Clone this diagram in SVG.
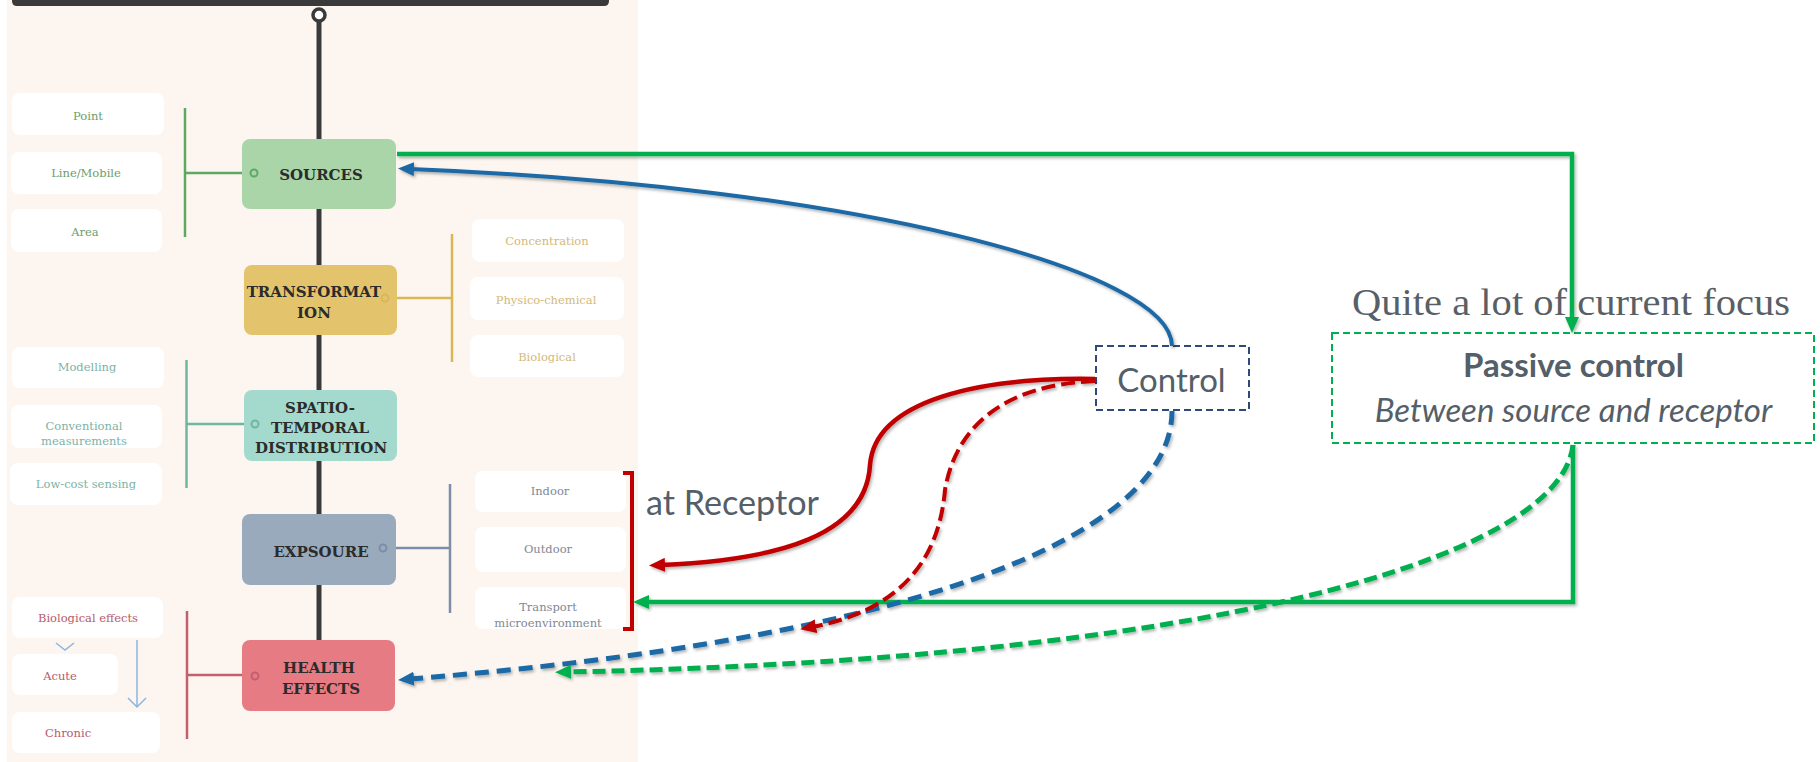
<svg xmlns="http://www.w3.org/2000/svg" width="1820" height="762" viewBox="0 0 1820 762">
<style>
.hd{font-family:"DejaVu Serif",serif;font-weight:bold;font-size:15px;fill:#2b2b2b;text-anchor:middle}
.lb{font-family:"DejaVu Serif",serif;font-size:11.5px;text-anchor:middle}
.lbox{fill:#ffffff}
.g{fill:#6b9e6b}.y{fill:#d3b978}.t{fill:#7db2a6}.s{fill:#7f8895}.r{fill:#b55a6a}
.br{fill:none;stroke-width:2.5}
.cal{font-family:Lato,"Open Sans",sans-serif;fill:#545f69}
</style>
<defs>
<marker id="aBlue" markerUnits="userSpaceOnUse" viewBox="0 0 16 14" refX="4" refY="7" markerWidth="16" markerHeight="14" orient="auto"><path d="M0,0 L16,7 L0,14 z" fill="#1a69a6"/></marker>
<marker id="aGreen" markerUnits="userSpaceOnUse" viewBox="0 0 16 14" refX="4" refY="7" markerWidth="16" markerHeight="14" orient="auto"><path d="M0,0 L16,7 L0,14 z" fill="#00b050"/></marker>
<marker id="aRed" markerUnits="userSpaceOnUse" viewBox="0 0 16 14" refX="4" refY="7" markerWidth="16" markerHeight="14" orient="auto"><path d="M0,0 L16,7 L0,14 z" fill="#c00000"/></marker>
<filter id="sh" x="-10%" y="-10%" width="120%" height="130%"><feDropShadow dx="1.5" dy="2" stdDeviation="1.5" flood-color="#000" flood-opacity="0.3"/></filter>
</defs>
<rect x="0" y="0" width="1820" height="762" fill="#ffffff"/>
<!-- left panel -->
<g id="panel">
<rect x="7" y="0" width="631" height="762" fill="#fdf6f0"/>
<path d="M12,0 H609 V1 Q609,6 604,6 H17 Q12,6 12,1 Z" fill="#3a3a3a"/>
<line x1="319" y1="21" x2="319" y2="641" stroke="#3a3a3a" stroke-width="5"/>
<circle cx="319" cy="15" r="6" fill="#ffffff" stroke="#3a3a3a" stroke-width="3.5"/>
</g>
<g id="sources">
<rect class="lbox" x="12" y="93" width="152" height="42" rx="8"/>
<rect class="lbox" x="11" y="152" width="151" height="42" rx="8"/>
<rect class="lbox" x="11" y="209" width="151" height="43" rx="8"/>
<text class="lb g" x="88" y="120">Point</text>
<text class="lb g" x="86" y="177">Line/Mobile</text>
<text class="lb g" x="85" y="236">Area</text>
<path class="br" d="M185,108 V237 M185,173 H250" stroke="#5fa862"/>
<rect x="242" y="139" width="154" height="70" rx="8" fill="#a9d5a9"/>
<circle cx="254" cy="173" r="3.5" fill="#a9d5a9" stroke="#5fa862" stroke-width="2"/>
<text class="hd" x="321" y="180">SOURCES</text>
</g>
<g id="transformation">
<rect class="lbox" x="472" y="219" width="152" height="43" rx="8"/>
<rect class="lbox" x="470" y="277" width="154" height="43" rx="8"/>
<rect class="lbox" x="470" y="335" width="154" height="42" rx="8"/>
<text class="lb y" x="547" y="245">Concentration</text>
<text class="lb y" x="546" y="304">Physico-chemical</text>
<text class="lb y" x="547" y="361">Biological</text>
<path class="br" d="M452,234 V362 M389,298 H452" stroke="#d9b657"/>
<rect x="244" y="265" width="153" height="70" rx="8" fill="#e3c46c"/>
<text class="hd" x="314" y="297">TRANSFORMAT</text>
<text class="hd" x="314" y="318">ION</text>
<circle cx="385" cy="298" r="3.5" fill="#e3c46c" stroke="#d9b657" stroke-width="2"/>
</g>
<g id="spatio">
<rect class="lbox" x="12" y="347" width="152" height="41" rx="8"/>
<rect class="lbox" x="11" y="405" width="151" height="43" rx="8"/>
<rect class="lbox" x="10" y="463" width="152" height="42" rx="8"/>
<text class="lb t" x="87" y="371">Modelling</text>
<text class="lb t" x="84" y="430">Conventional</text>
<text class="lb t" x="84" y="445">measurements</text>
<text class="lb t" x="86" y="488">Low-cost sensing</text>
<path class="br" d="M186.5,360 V488 M186.5,424 H251" stroke="#6fb6a3"/>
<rect x="244" y="390" width="153" height="71" rx="8" fill="#a4d9cd"/>
<circle cx="255" cy="424" r="3.5" fill="#a4d9cd" stroke="#6fb6a3" stroke-width="2"/>
<text class="hd" x="320" y="413">SPATIO-</text>
<text class="hd" x="320" y="433">TEMPORAL</text>
<text class="hd" x="321" y="453">DISTRIBUTION</text>
</g>
<g id="exposure">
<rect class="lbox" x="475" y="471" width="151" height="41" rx="8"/>
<rect class="lbox" x="475" y="527" width="151" height="45" rx="8"/>
<rect class="lbox" x="475" y="587" width="151" height="42" rx="8"/>
<text class="lb s" x="550" y="495">Indoor</text>
<text class="lb s" x="548" y="553">Outdoor</text>
<text class="lb s" x="548" y="611">Transport</text>
<text class="lb s" x="548" y="627">microenvironment</text>
<path class="br" d="M450,484 V613 M387,548 H450" stroke="#7b8da8"/>
<rect x="242" y="514" width="154" height="71" rx="8" fill="#99aabd"/>
<circle cx="383" cy="548" r="3.5" fill="#99aabd" stroke="#7b8da8" stroke-width="2"/>
<text class="hd" x="321" y="557">EXPSOURE</text>
</g>
<g id="health">
<rect class="lbox" x="12" y="597" width="151" height="41" rx="8"/>
<rect class="lbox" x="12" y="654" width="106" height="41" rx="8"/>
<rect class="lbox" x="12" y="712" width="148" height="41" rx="8"/>
<text class="lb r" x="88" y="622">Biological effects</text>
<text class="lb r" x="60" y="680">Acute</text>
<text class="lb r" x="68" y="737">Chronic</text>
<path d="M56,643 L65,650 L74,643 M137,640 V707 M128,698 L137,707 L146,698" fill="none" stroke="#8ab6e0" stroke-width="1.5"/>
<path class="br" d="M187,611 V739 M187,675 H251" stroke="#c3606d"/>
<rect x="242" y="640" width="153" height="71" rx="8" fill="#e67b84"/>
<circle cx="255" cy="676" r="3.5" fill="#e67b84" stroke="#c3606d" stroke-width="2"/>
<text class="hd" x="319" y="673">HEALTH</text>
<text class="hd" x="321" y="694">EFFECTS</text>
</g>
<g id="control">
<rect x="1096" y="346" width="153" height="64" fill="#ffffff" stroke="#2f4a7a" stroke-width="2" stroke-dasharray="7 4"/>
<text class="cal" x="1171.5" y="392" font-size="33" text-anchor="middle">Control</text>
</g>
<g id="passive">
<rect x="1332" y="333" width="482" height="110" fill="#ffffff" stroke="#00b050" stroke-width="2" stroke-dasharray="7 4"/>
<text class="cal" x="1573.5" y="377" font-size="33" font-weight="bold" text-anchor="middle">Passive control</text>
<text class="cal" x="1573.5" y="422" font-size="33" font-style="italic" text-anchor="middle">Between source and receptor</text>
</g>
<g id="receptor">
<path d="M623,473 H632 V629 H623" fill="none" stroke="#c00000" stroke-width="4"/>
<text class="cal" x="646" y="515" font-size="34" textLength="173" lengthAdjust="spacingAndGlyphs">at Receptor</text>
</g>
<g id="focus-label">
<text x="1352" y="315" font-family="Liberation Serif,serif" font-size="37" fill="#595f66" textLength="438" lengthAdjust="spacingAndGlyphs">Quite a lot of current focus</text>
</g>
<g id="connectors" fill="none" filter="url(#sh)">
<path d="M397,154 H1572 V321" stroke="#00b050" stroke-width="4.5" marker-end="url(#aGreen)"/>
<path d="M1573,445 V602 H645" stroke="#00b050" stroke-width="4.5" marker-end="url(#aGreen)"/>
<path d="M1172,346 C1172,270 850,186 410,169" stroke="#1a69a6" stroke-width="4" marker-end="url(#aBlue)"/>
<path d="M1172,411 C1172,540 900,640 410,679" stroke="#1a69a6" stroke-width="5" stroke-dasharray="14 8" marker-end="url(#aBlue)"/>
<path d="M1095,379 C980,377 875,400 870,465 C866,535 780,560 661,565" stroke="#c00000" stroke-width="4.5" marker-end="url(#aRed)"/>
<path d="M1095,381 C1000,385 955,430 945,490 C938,570 890,612 812,627" stroke="#c00000" stroke-width="4" stroke-dasharray="14 6" marker-end="url(#aRed)"/>
<path d="M1573,445 C1560,560 1200,660 567,672" stroke="#00b050" stroke-width="5" stroke-dasharray="13 6" marker-end="url(#aGreen)"/>
</g>
</svg>
